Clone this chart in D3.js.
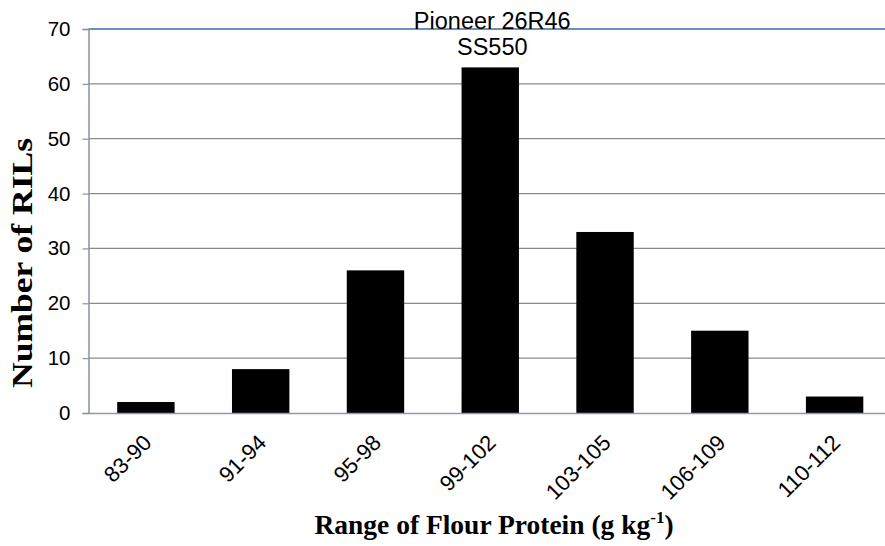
<!DOCTYPE html>
<html>
<head>
<meta charset="utf-8">
<script src="https://cdn.jsdelivr.net/npm/d3@7"></script>
<style>
  body { margin: 0; background: #fff; }
  svg { display: block; }
</style>
</head>
<body>
<svg id="chart" width="885" height="546"></svg>
<script>
// data
const categories = ['83-90', '91-94', '95-98', '99-102', '103-105', '106-109', '110-112'];
const counts = [2, 8, 26, 63, 33, 15, 3];
const yTicks = [0, 10, 20, 30, 40, 50, 60, 70];
const noteLines = ['Pioneer 26R46', 'SS550'];

const svg = d3.select('#chart');
const margin = { top: 29, left: 88.5, bottom: 413, right: 892 };

// x scale - bands across the plot
const x = d3.scaleBand()
  .domain(categories)
  .range([margin.left, margin.right])
  .paddingInner(0.5)
  .paddingOuter(0.25);

// y scale
const y = d3.scaleLinear()
  .domain([0, 70])
  .range([margin.bottom, margin.top]);

// gridlines
svg.append('g')
  .selectAll('line')
  .data(yTicks.filter(d => d > 0))
  .enter()
  .append('line')
  .attr('x1', margin.left)
  .attr('x2', margin.right)
  .attr('y1', d => y(d))
  .attr('y2', d => y(d))
  .attr('stroke', d => d === 70 ? '#6c8ebd' : '#8a8a8a')
  .attr('stroke-width', d => d === 70 ? 2 : 1.2);

// y axis
const yAxis = d3.axisLeft(y)
  .tickValues(yTicks)
  .tickSize(6)
  .tickPadding(12);

const gy = svg.append('g')
  .attr('transform', `translate(${margin.left},0)`)
  .call(yAxis);
gy.select('.domain').attr('stroke', '#8b929c').attr('stroke-width', 1.5);
gy.selectAll('.tick line').attr('stroke', '#8b929c').attr('stroke-width', 1.2);
gy.selectAll('.tick text')
  .attr('font-family', 'Liberation Sans, Arial, sans-serif')
  .attr('font-size', 20.5)
  .attr('fill', '#000');

// bars
svg.selectAll('rect.bar')
  .data(counts)
  .enter()
  .append('rect')
  .attr('class', 'bar')
  .attr('x', (d, i) => x(categories[i]))
  .attr('y', d => y(d))
  .attr('width', x.bandwidth())
  .attr('height', d => y(0) - y(d))
  .attr('fill', '#000');

// x axis
const xAxis = d3.axisBottom(x).tickSize(0).tickSizeOuter(0);
const gx = svg.append('g')
  .attr('transform', `translate(0,${margin.bottom})`)
  .call(xAxis);
gx.select('.domain').attr('stroke', '#8e9aab').attr('stroke-width', 1.5);
gx.selectAll('.tick text')
  .attr('font-family', 'Liberation Sans, Arial, sans-serif')
  .attr('font-size', 22)
  .attr('fill', '#000')
  .attr('text-anchor', 'end')
  .attr('transform', 'translate(7,31) rotate(-45)')
  .attr('x', 0)
  .attr('y', 0)
  .attr('dy', 0);

// note above the tallest bar
const peak = categories[counts.indexOf(d3.max(counts))];
svg.append('g')
  .selectAll('text')
  .data(noteLines)
  .enter()
  .append('text')
  .attr('x', x(peak) + x.bandwidth() / 2 + 2)
  .attr('y', (d, i) => 29 + i * 26)
  .attr('text-anchor', 'middle')
  .attr('font-family', 'Liberation Sans, Arial, sans-serif')
  .attr('font-size', 23.5)
  .attr('fill', '#000')
  .text(d => d);

// axis titles
const xTitle = svg.append('text')
  .attr('x', 494)
  .attr('y', 534)
  .attr('text-anchor', 'middle')
  .attr('font-family', 'Liberation Serif, Times New Roman, serif')
  .attr('font-weight', 'bold')
  .attr('font-size', 27.5)
  .attr('fill', '#000');
xTitle.append('tspan').text('Range of Flour Protein (g kg');
xTitle.append('tspan').attr('font-size', 17).attr('dy', -11).text('-1');
xTitle.append('tspan').attr('dy', 11).text(')');

svg.append('text')
  .attr('transform', 'translate(32,263) rotate(-90)')
  .attr('text-anchor', 'middle')
  .attr('font-family', 'Liberation Serif, Times New Roman, serif')
  .attr('font-weight', 'bold')
  .attr('font-size', 29)
  .attr('textLength', 250)
  .attr('lengthAdjust', 'spacingAndGlyphs')
  .attr('fill', '#000')
  .text('Number of RILs');
</script>
</body>
</html>
